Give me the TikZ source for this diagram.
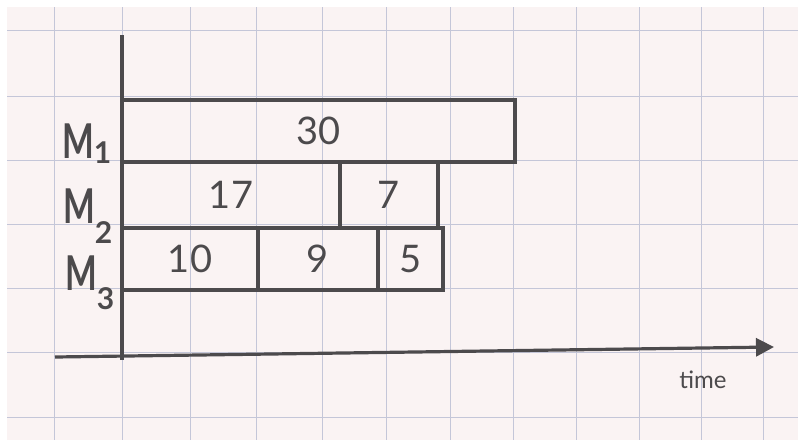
\documentclass[tikz,border=0pt]{standalone}
\usepackage{fontspec}
\setmainfont{Lato}
\usetikzlibrary{arrows.meta,positioning}
\definecolor{paper}{RGB}{250,243,243}
\definecolor{gridblue}{RGB}{196,198,216}
\definecolor{pencil}{RGB}{76,74,76}

\begin{document}
\begin{tikzpicture}[x=1pt, y=-1pt,
  bar/.style={draw=pencil, line width=3.2pt, inner sep=0pt, text=pencil, font=\fontsize{38}{38}\selectfont},
  mlabel/.style={anchor=base west, inner sep=0pt, text=pencil, font=\bfseries\fontsize{48}{48}\selectfont},
  axis/.style={draw=pencil, line width=3.2pt}
]
  \useasboundingbox (0,0) rectangle (798,440);
  \fill[white] (0,0) rectangle (798,440);
  \fill[paper] (7,7) rectangle (798,440);
  %% graph paper
  \foreach \gx in {54,122,190,256,322,386,450,513,576,639,701,763}
    \draw[gridblue, line width=0.9pt] (\gx,7) -- (\gx,440);
  \foreach \gy in {30,96,160,224,288,352,417}
    \draw[gridblue, line width=0.9pt] (7,\gy) -- (798,\gy);
  %% machine labels
  \node[mlabel] (m1) at (62,158) {\scalebox{0.7}[1]{M}\raisebox{-0.12em}{\fontsize{30}{30}\selectfont 1}};
  \node[mlabel] (m2) at (63,223) {\scalebox{0.7}[1]{M}\raisebox{-0.42em}{\fontsize{30}{30}\selectfont 2}};
  \node[mlabel] (m3) at (65,290) {\scalebox{0.7}[1]{M}\raisebox{-0.40em}{\fontsize{30}{30}\selectfont 3}};
  %% M1 jobs
  \node[bar, minimum width=393pt, minimum height=62pt] (j30) at (318.5,131) {30};
  %% M2 jobs
  \node[bar, minimum width=218pt, minimum height=66pt] (j17) at (231,195) {17};
  \node[bar, minimum width=98pt, minimum height=66pt] (j7) at (389,195) {7};
  %% M3 jobs
  \node[bar, minimum width=136pt, minimum height=62pt] (j10) at (190,259) {10};
  \node[bar, minimum width=120pt, minimum height=62pt] (j9) at (318,259) {9};
  \node[bar, minimum width=65pt, minimum height=62pt] (j5) at (410.5,259) {5};
  %% axes
  \coordinate (ytop) at (122,35);
  \coordinate (ybot) at (122,360);
  \coordinate (xstart) at (55,357);
  \coordinate (xend) at (774,347);
  \draw[axis] (ytop) -- (ybot);
  \draw[axis, -{Triangle[length=18pt, width=18pt]}] (xstart) -- (xend);
  \node[text=pencil, font=\fontsize{24}{24}\selectfont] (timelbl) at (703,380) {time};
\end{tikzpicture}
\end{document}
